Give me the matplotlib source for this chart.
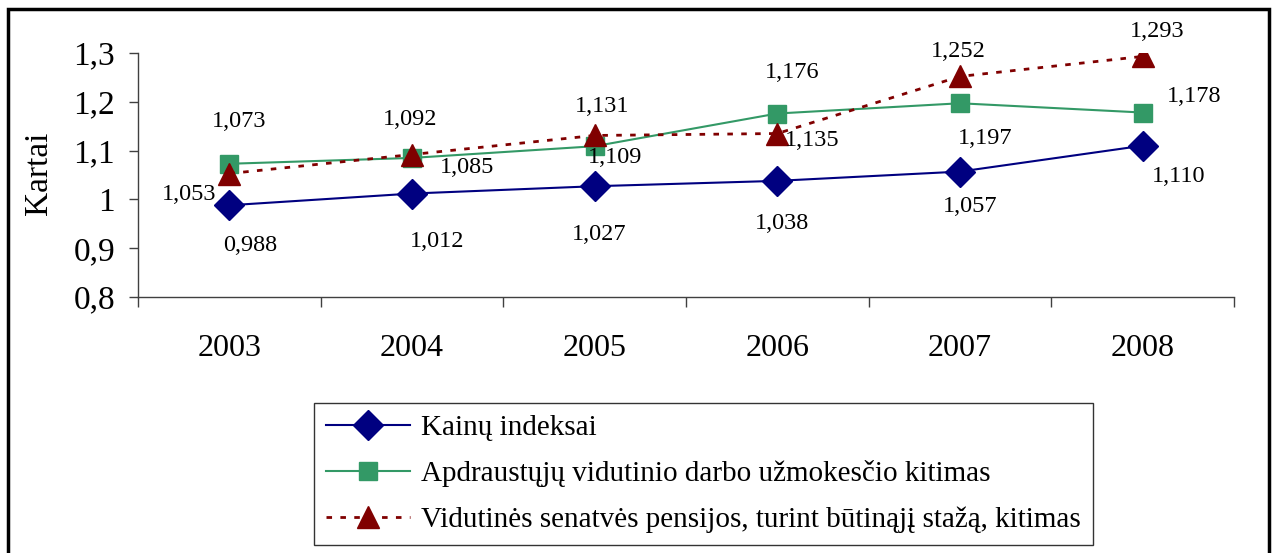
import matplotlib
matplotlib.use("Agg")
import matplotlib.pyplot as plt
from matplotlib.patches import Rectangle

plt.rcParams['font.family'] = ['Liberation Serif', 'DejaVu Serif']

years = ['2003', '2004', '2005', '2006', '2007', '2008']
kainu = [0.988, 1.012, 1.027, 1.038, 1.057, 1.110]
uzmokestis = [1.073, 1.085, 1.109, 1.176, 1.197, 1.178]
pensija = [1.053, 1.092, 1.131, 1.135, 1.252, 1.293]
series_names = ['Kainų indeksai',
                'Apdraustųjų vidutinio darbo užmokesčio kitimas',
                'Vidutinės senatvės pensijos, turint būtinąjį stažą, kitimas']
yticks = [0.8, 0.9, 1.0, 1.1, 1.2, 1.3]
ytick_labels = ['0,8', '0,9', '1', '1,1', '1,2', '1,3']

# label offsets in pixels (dx, dy) with dy positive = up
off_k = [(21, -40), (25, -48), (5, -48), (5, -43), (10, -35), (36, -31)]
off_u = [(10, 42), (55, -10), (20, -11), (15, 41), (25, -35), (51, 16)]
off_p = [(-40, -21), (-2, 35), (7, 29), (35, -7), (-2, 25), (15, 25)]

W, H = 1275, 553
fig = plt.figure(figsize=(W / 100, H / 100), dpi=100)
ax = fig.add_axes([138 / W, (H - 297) / H, (1234 - 138) / W, (297 - 53) / H])

x = list(range(len(years)))
navy = '#000080'
green = '#339966'
dred = '#800000'
l1, = ax.plot(x, kainu, color=navy, lw=1.5, marker='D', ms=15, mfc=navy, mec=navy, zorder=3)
l2, = ax.plot(x, uzmokestis, color=green, lw=1.5, marker='s', ms=13, mfc=green, mec=green, zorder=3)
l3, = ax.plot(x, pensija, color=dred, lw=2, ls=(0, (2, 3)), marker='^', ms=16, mfc=dred, mec=dred, zorder=4)

def fmt(v):
    return f"{v:.3f}".replace('.', ',')

for vals, offs in ((kainu, off_k), (uzmokestis, off_u), (pensija, off_p)):
    for i, (v, (dx, dy)) in enumerate(zip(vals, offs)):
        ax.annotate(fmt(v), (i, v), xytext=(dx, dy), textcoords='offset pixels',
                    ha='center', va='center', fontsize=17.5, zorder=5)

ax.set_xlim(-0.5, len(years) - 0.5)
ax.set_ylim(0.8, 1.3)
ax.set_yticks(yticks)
ax.set_yticklabels(ytick_labels, fontsize=24)
ax.set_xticks(x)
ax.set_xticklabels(years, fontsize=23)
ax.tick_params(axis='x', length=0, pad=27)
ax.set_xticks([i - 0.5 for i in range(len(years) + 1)], minor=True)
ax.tick_params(axis='x', which='minor', length=7, width=1, color='#404040', direction='out')
ax.tick_params(axis='y', length=6.5, width=1, color='#404040', direction='out', pad=10)
for s in ('top', 'right'):
    ax.spines[s].set_visible(False)
for s in ('left', 'bottom'):
    ax.spines[s].set_color('#404040')
    ax.spines[s].set_linewidth(1)
ax.set_ylabel('Kartai', fontsize=24, va='center')
ax.yaxis.set_label_coords(39 / W, (H - 173) / H, transform=fig.transFigure)

# outer border
fig.patches.append(Rectangle((8 / W, -10 / H), (1269 - 8) / W, (553 - 9 + 10) / H,
                             transform=fig.transFigure, fill=False, ec='black', lw=2.5))

leg = fig.legend([l1, l2, l3], series_names, loc='upper left',
                 bbox_to_anchor=(314 / W, (H - 403) / H), fontsize=21,
                 frameon=True, fancybox=False, edgecolor='black', handlelength=2.9,
                 borderpad=0.4, labelspacing=0.66, handletextpad=0.38, borderaxespad=0)
leg.get_frame().set_linewidth(1)

fig.savefig('out.png', dpi=100)
